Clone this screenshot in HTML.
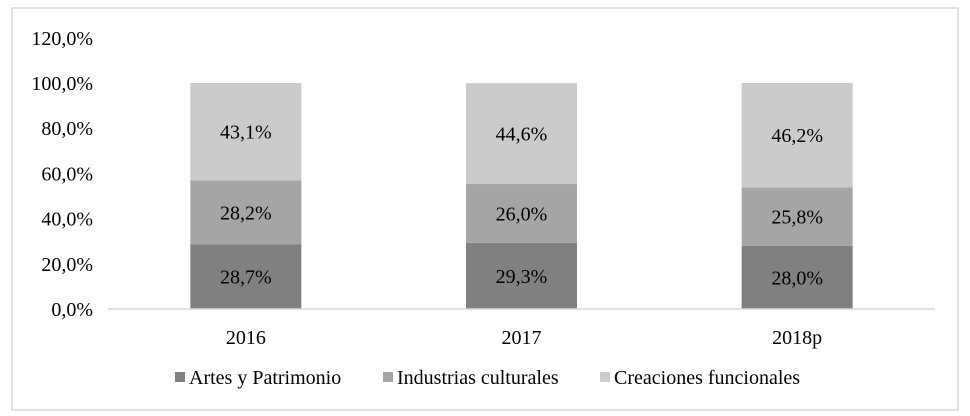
<!DOCTYPE html>
<html><head><meta charset="utf-8"><style>
body{margin:0;background:#fff;}
svg{display:block;font-family:"Liberation Serif",serif;}
</style></head><body>
<svg width="970" height="416">
<rect x="12" y="8" width="946" height="402" fill="#fff" stroke="#d9d9d9" stroke-width="1.5"/>
<g id="g"></g>
</svg>
<script>
const categories=["2016","2017","2018p"];
const seriesNames=["Artes y Patrimonio","Industrias culturales","Creaciones funcionales"];
const artes=[28.7,29.3,28.0];
const industrias=[28.2,26.0,25.8];
const creaciones=[43.1,44.6,46.2];
const yTicks=[0,20,40,60,80,100,120];
const colors=["#808080","#a5a5a5","#cbcbcb"];
const ns="http://www.w3.org/2000/svg";
const g=document.getElementById('g');
const x0=108,x1=935,yBase=309,pxPer=2.26;
const y=v=>yBase-v*pxPer;
const band=(x1-x0)/categories.length;
const xc=i=>x0+band*(i+0.5);
const bw=111;
const fs=20;
function mk(t,a){const e=document.createElementNS(ns,t);for(const k in a)e.setAttribute(k,a[k]);g.appendChild(e);return e;}
yTicks.forEach(v=>{const t=mk('text',{x:93,y:y(v)+7,'text-anchor':'end','font-size':fs,fill:'#000'});t.textContent=v.toFixed(1).replace('.',',')+'%';

});
const series=[artes,industrias,creaciones];
categories.forEach((c,i)=>{let acc=0;
series.forEach((s,k)=>{const v=s[i];
const r=mk('rect',{x:xc(i)-bw/2,y:y(acc+v),width:bw,height:v*pxPer,fill:colors[k]});


const t=mk('text',{x:xc(i),y:y(acc+v/2)+7,'text-anchor':'middle','font-size':fs,fill:'#000'});t.textContent=v.toFixed(1).replace('.',',')+'%';


acc+=v;});
const t=mk('text',{x:xc(i),y:344,'text-anchor':'middle','font-size':fs,fill:'#000'});t.textContent=c;


});
const ax=mk('line',{x1:x0,x2:x1,y1:yBase,y2:yBase,stroke:'#d9d9d9','stroke-width':1.5});


const lx=[175,383,600];
seriesNames.forEach((n,k)=>{
const r=mk('rect',{x:lx[k],y:372,width:10,height:10,fill:colors[k]});


const t=mk('text',{x:lx[k]+14,y:384,'font-size':fs,fill:'#000'});t.textContent=n;


});
</script>
</body></html>
